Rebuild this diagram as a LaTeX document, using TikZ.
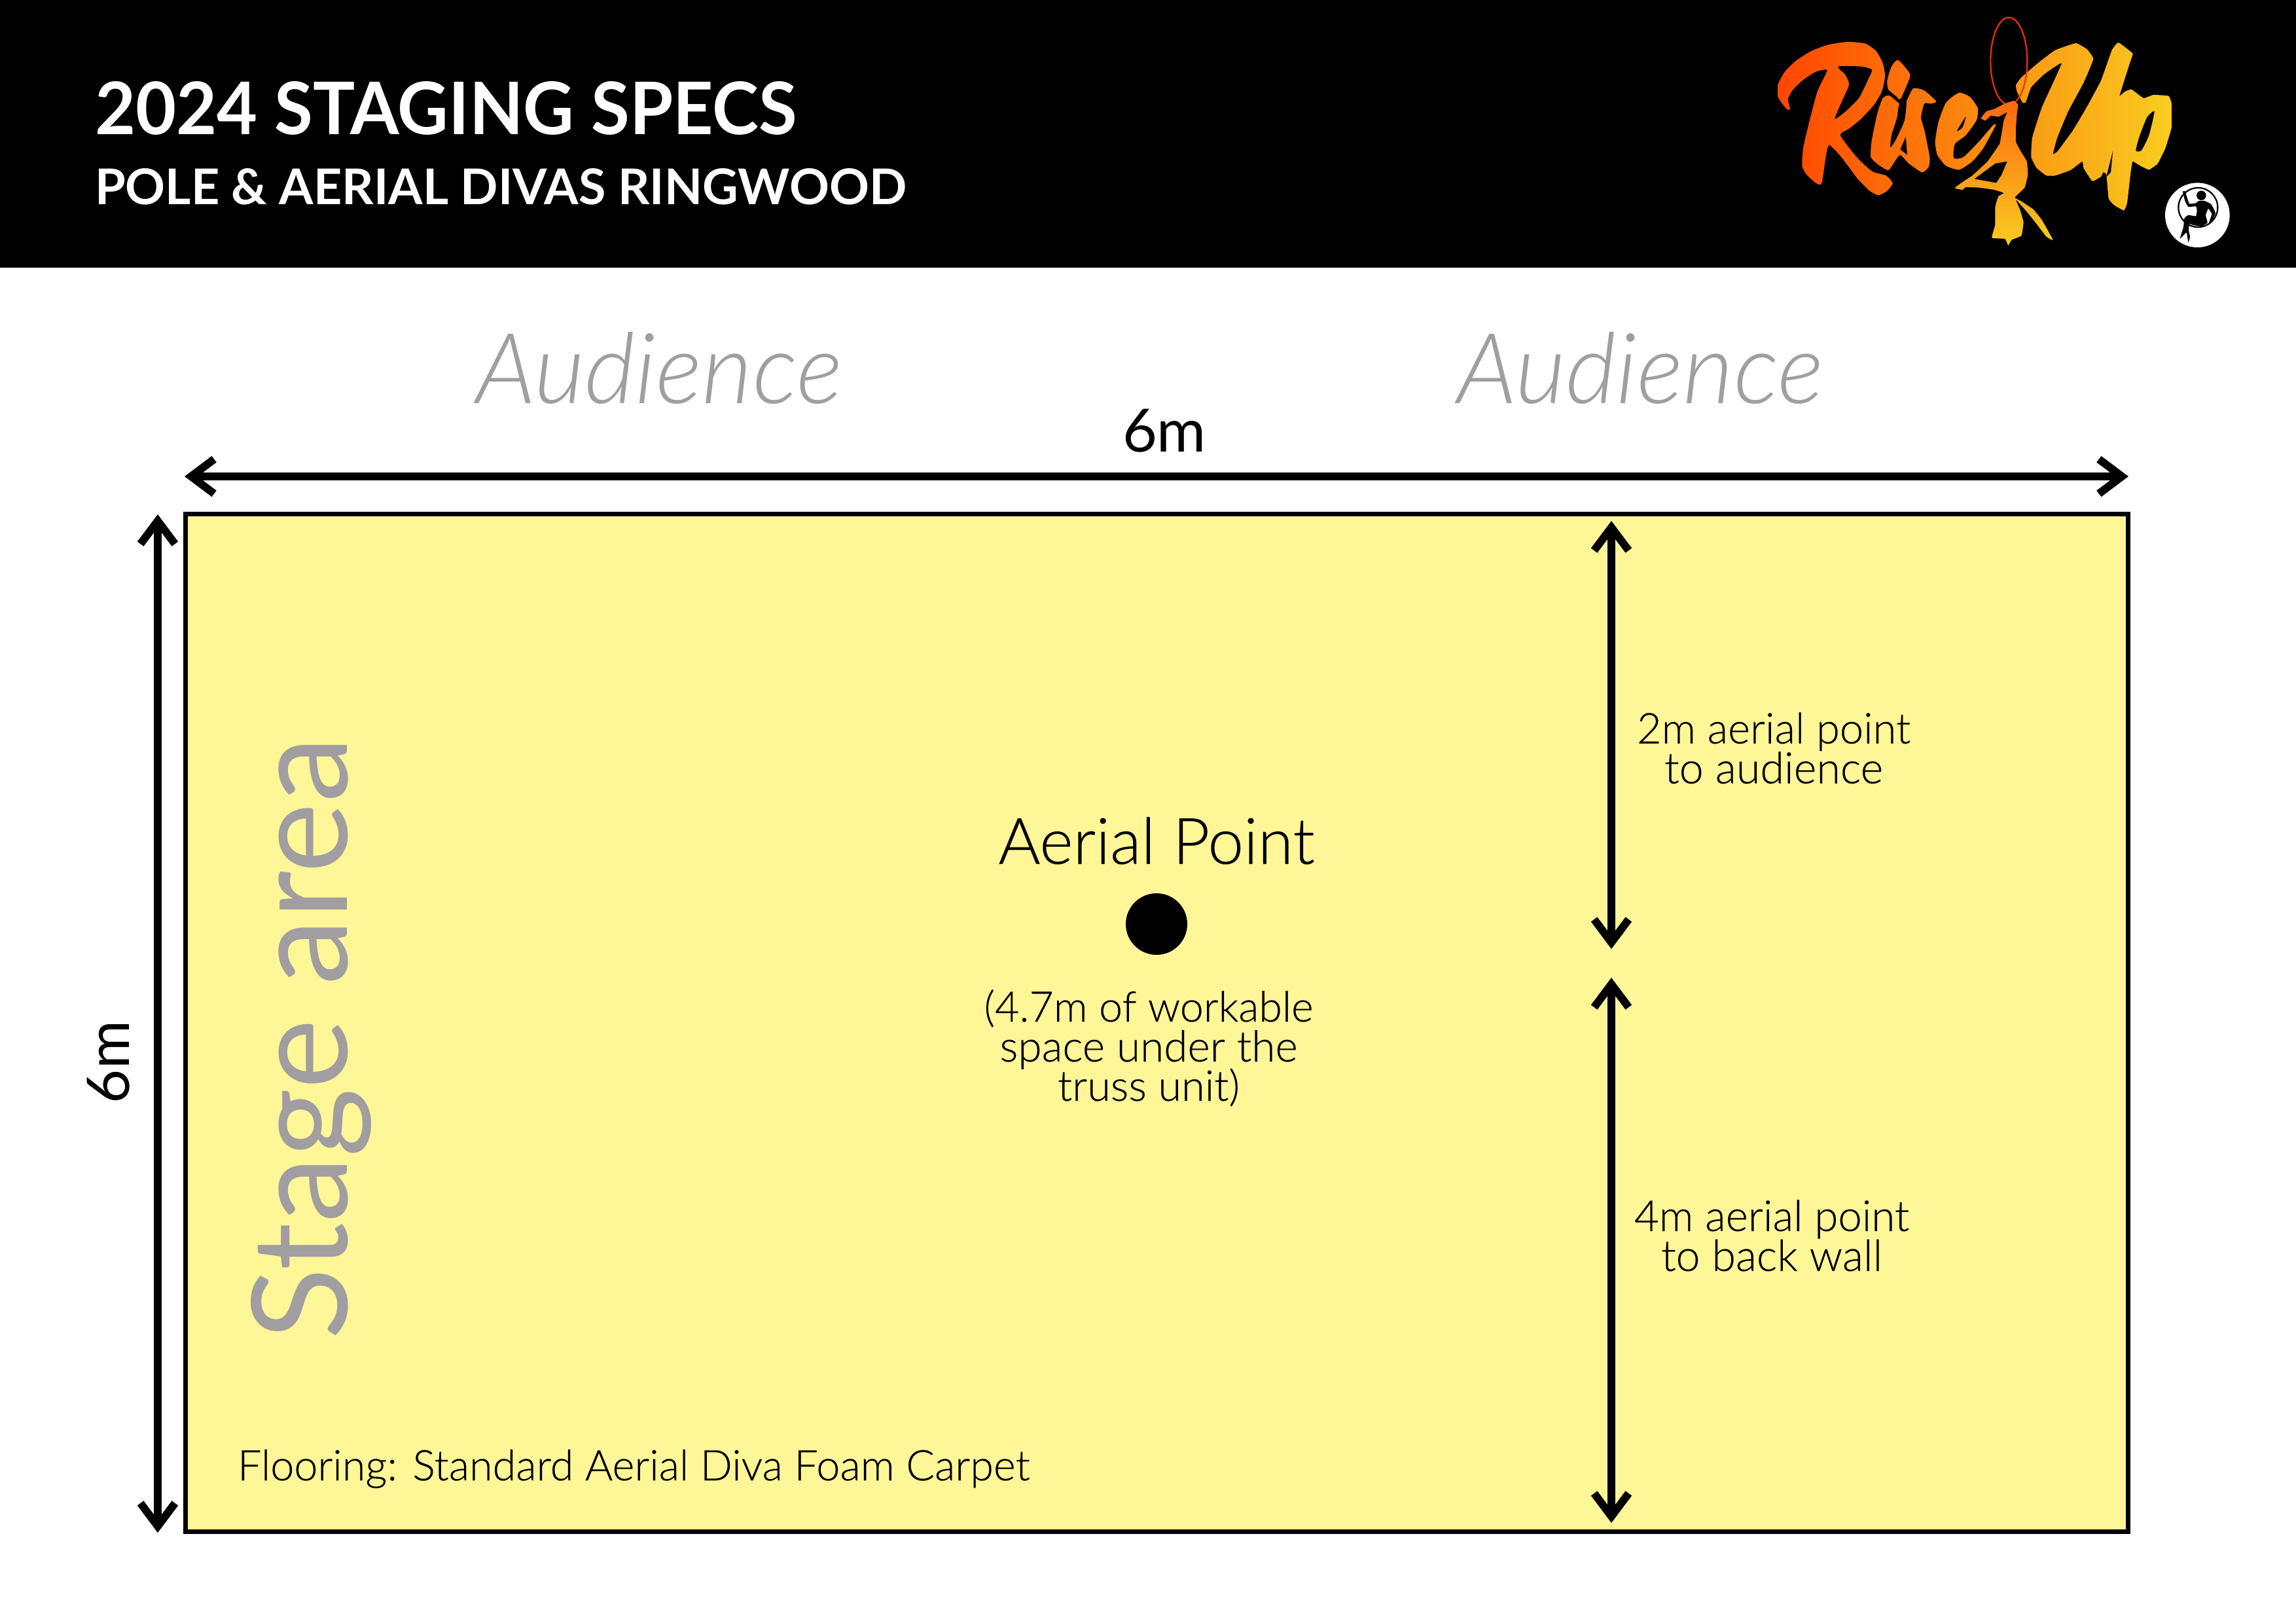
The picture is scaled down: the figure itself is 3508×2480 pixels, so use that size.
\documentclass[tikz,border=0pt]{standalone}
\usepackage{fontspec}
\usepackage{graphicx}
\setmainfont{Lato}
\newfontfamily\lightf{Lato Light}
\newfontfamily\bookf[FakeBold=0.25]{Lato Light}
\usetikzlibrary{arrows.meta}
\definecolor{stageyellow}{HTML}{FFF698}
\definecolor{softgrey}{HTML}{A09EA0}
\definecolor{hoopred}{HTML}{EE3010}
\newlength{\pxu}\setlength{\pxu}{0.02cm}
\newcommand{\fitw}[2]{\resizebox{#1\pxu}{!}{#2}}
\newcommand{\fitwh}[3]{\resizebox{#1\pxu}{#2\pxu}{#3}}
\tikzset{
  lbl/.style={anchor=base,inner sep=0pt,outer sep=0pt,text=black},
  greylbl/.style={anchor=base,inner sep=0pt,outer sep=0pt,text=softgrey},
  dimarrow/.style={line width=12\pxu,{Straight Barb[length=20pt,width=30pt]}-{Straight Barb[length=20pt,width=30pt]}},
  logoshape/.style={smooth cycle,tension=0.35},
}
\begin{document}
\begin{tikzpicture}[x=0.02cm,y=-0.02cm]
\useasboundingbox (0,0) rectangle (3508,2480);
\fill[white] (0,0) rectangle (3508,2480);
\fill[black] (0,0) rectangle (3508,409);
% title
\node[lbl,text=white,anchor=base west] (title) at (145,206) {\fitwh{1073}{81}{\bfseries 2024 STAGING SPECS}};
\node[lbl,text=white,anchor=base west] (subtitle) at (145,313) {\fitwh{1240}{55}{\bfseries POLE \& AERIAL DIVAS RINGWOOD}};
% stage
\node[draw=black,line width=7\pxu,fill=stageyellow,inner sep=0pt,outer sep=0pt,minimum width=2968\pxu,minimum height=1555\pxu,anchor=north west] (stage) at (283.5,785.5) {};
% dims
\coordinate (wl) at (282,728); \coordinate (wr) at (3252,728);
\draw[dimarrow] (wl) -- (wr);
\coordinate (ht) at (241,786); \coordinate (hb) at (241,2342);
\draw[dimarrow] (ht) -- (hb);
\coordinate (at) at (2462,796); \coordinate (am) at (2462,1450);
\draw[dimarrow] (at) -- (am);
\coordinate (bt) at (2462,1494); \coordinate (bb) at (2462,2327);
\draw[dimarrow] (bt) -- (bb);
% point
\node[circle,fill=black,inner sep=0pt,minimum size=94\pxu] (pt) at (1767,1412) {};
% labels
\node[greylbl] (aud1) at (1007,616) {\fitw{560}{\lightf\itshape Audience}};
\node[greylbl] (aud2) at (2506,616) {\fitw{560}{\lightf\itshape Audience}};
\node[lbl] (w6) at (1779,690) {\fitw{128}{6m}};
\node[lbl,rotate=90] (h6) at (197,1623) {\fitw{126}{6m}};
\node[greylbl,rotate=90] (sa) at (530,1587) {\fitw{920}{Stage area}};
\node[lbl] (ap) at (1767,1320) {\fitw{483}{\bookf Aerial Point}};
\node[lbl] (n1) at (1755,1561) {\fitw{503}{\bookf (4.7m of workable}};
\node[lbl] (n2) at (1755,1622) {\fitw{455}{\bookf space under the}};
\node[lbl] (n3) at (1755,1682) {\fitw{278}{\bookf truss unit)}};
\node[lbl] (a1) at (2710,1136) {\fitw{418}{\bookf 2m aerial point}};
\node[lbl] (a2) at (2710,1197) {\fitw{334}{\bookf to audience}};
\node[lbl] (b1) at (2707,1881) {\fitw{420}{\bookf 4m aerial point}};
\node[lbl] (b2) at (2707,1942) {\fitw{338}{\bookf to back wall}};
\node[lbl,anchor=base west] (fl) at (363,2262) {\fitw{1210}{\bookf Flooring: Standard Aerial Diva Foam Carpet}};
% logo
\begin{scope}[shift={(2710,50)},x=0.0066667cm,y=-0.0066667cm]
 \begin{scope}
 \clip plot[logoshape] coordinates {(75,350)(62,352)(35,320)(18,290)(18,240)(50,180)(100,130)(170,85)(250,55)(340,42)(420,50)(470,85)(500,140)(510,200)(495,270)(460,330)(400,395)(345,440)(305,470)(380,570)(450,635)(515,655)(545,690)(520,725)(480,745)(440,725)(385,670)(310,570)(255,515)(240,560)(220,690)(195,690)(150,650)(130,610)(135,530)(160,420)(200,270)(245,172)(190,180)(130,220)(85,265)(65,305)}
  plot[logoshape] coordinates {(540,155)(570,125)(625,190)(610,240)(580,305)(560,290)(525,260)(520,220)}
  plot[logoshape] coordinates {(530,288)(575,325)(590,340)(610,310)(640,255)(690,265)(745,315)(720,325)(690,325)(675,390)(690,445)(715,570)(710,615)(680,640)(620,600)(580,560)(555,590)(525,630)(480,605)(445,570)(450,490)(475,370)(500,300)}
  plot[logoshape] coordinates {(740,500)(755,410)(790,320)(850,275)(900,295)(935,345)(930,400)(880,470)(830,510)(825,575)(870,570)(940,500)(1005,425)(1017,425)(960,530)(910,590)(850,628)(790,610)(750,560)}
  plot[smooth cycle,tension=0.2] coordinates {(1110,240)(1135,205)(1210,140)(1290,80)(1385,48)(1435,75)(1465,120)(1420,230)(1350,360)(1300,480)(1280,555)(1300,545)(1370,450)(1430,350)(1500,220)(1550,80)(1580,45)(1645,95)(1635,130)(1600,240)(1585,290)(1610,270)(1640,260)(1695,300)(1740,285)(1810,290)(1825,330)(1825,430)(1795,530)(1760,600)(1720,628)(1680,610)(1645,590)(1635,650)(1620,780)(1605,815)(1560,790)(1535,760)(1525,650)(1510,640)(1500,660)(1460,680)(1420,620)(1415,590)(1360,630)(1290,655)(1250,655)(1205,620)(1180,570)(1185,480)(1230,340)(1320,140)(1240,190)(1180,250)(1155,320)(1140,320)(1115,270)};
 \shade[left color={rgb,255:red,255;green,70;blue,0},middle color={rgb,255:red,255;green,135;blue,15},right color={rgb,255:red,249;green,205;blue,32}] (18,-100) rectangle (1825,1000);
 \end{scope}
 \fill[black] plot[logoshape] coordinates {(295,155)(400,155)(450,170)(430,220)(390,300)(330,360)(280,395)(310,320)(345,240)(330,195)};
 \fill[black] plot[logoshape] coordinates {(575,330)(608,305)(600,400)(560,490)(535,525)(540,470)(565,390)};
 \fill[black] (605,478)--(612,560)--(580,535)--cycle;
 \fill[black] plot[logoshape] coordinates {(840,450)(880,385)(865,435)};
 \fill[black] (1525,660)--(1555,540)--(1545,640)--cycle;
 \fill[black] plot[logoshape] coordinates {(1745,360)(1710,390)(1675,480)(1660,540)(1685,540)(1720,470)};
 \draw[hoopred,line width=1.25pt] (1078,130) ellipse [x radius=84, y radius=200];
 % aerialist
 \begin{scope}
 \clip plot[smooth cycle,tension=0.2] coordinates {(1060,325)(1100,312)(1120,330)(1115,370)(1110,440)(1110,500)(1130,540)(1160,590)(1165,650)(1150,710)(1105,755)(1130,770)(1190,810)(1230,860)(1280,950)(1250,935)(1200,870)(1160,820)(1110,765)(1130,815)(1145,870)(1135,930)(1090,950)(1075,975)(1060,945)(1000,940)(1015,880)(1015,800)(1030,750)(1055,735)(1010,720)(940,710)(880,708)(865,720)(830,712)(865,685)(910,655)(980,590)(1035,510)(1045,460)(1055,400)(1070,365)(1030,385)(995,380)(970,403)(950,392)(975,360)(1010,350)};
 \shade[top color={rgb,255:red,252;green,105;blue,15},bottom color={rgb,255:red,249;green,205;blue,32}] (800,310) rectangle (1300,980);
 \end{scope}
 \fill[black] (1070,590)--(1015,600)--(920,670)--(1020,688)--(1045,650)--cycle;
\end{scope}
% small badge
\begin{scope}[shift={(3300,272)},x=0.0066667cm,y=-0.0066667cm]
 \fill[white] (172,170) circle [radius=148];
 \draw[black,line width=1.3pt] (175,135) circle [radius=90];
 \fill[black] (190,80) circle [radius=22];
 \fill[black] plot[smooth cycle,tension=0.2] coordinates {(105,62)(115,60)(125,90)(135,118)(165,115)(178,105)(205,105)(235,120)(255,160)(245,185)(235,200)(225,205)(238,165)(222,140)(210,170)(218,205)(190,222)(150,215)(135,210)(132,240)(138,270)(130,295)(122,250)(92,278)(108,225)(112,185)(130,170)(165,175)(170,150)(165,130)(130,132)(115,105)};
\end{scope}
\end{tikzpicture}
\end{document}
